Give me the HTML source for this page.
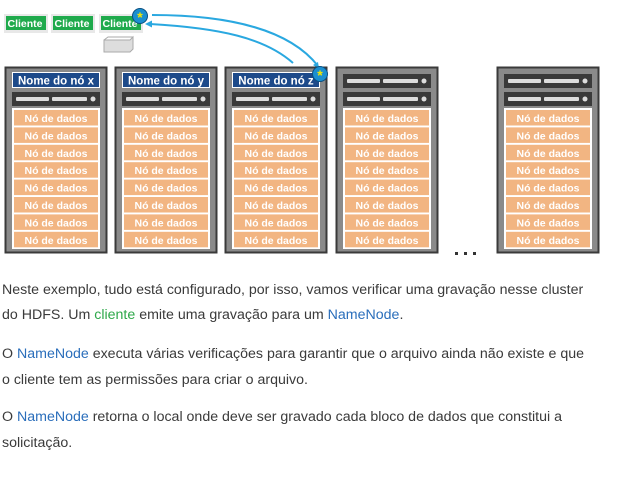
<!DOCTYPE html>
<html><head><meta charset="utf-8"><style>
body{margin:0;width:617px;height:480px;background:#fff;position:relative;overflow:hidden;font-family:"Liberation Sans",sans-serif}
.t{position:absolute;left:2px;font-size:14.2px;color:#3a3a3a;white-space:nowrap}
.b{color:#2a6ebb}.g{color:#2ea84a}
</style></head><body>
<svg width="617" height="265" style="position:absolute;left:0;top:0" font-family="Liberation Sans, sans-serif" font-weight="bold">
<defs>
<g id="bar"><rect x="0" y="0" width="88" height="14" fill="#3a3a3a"/><rect x="4" y="5" width="33" height="4" fill="#ddd" rx="1"/><rect x="40" y="5" width="35" height="4" fill="#ddd" rx="1"/><circle cx="81" cy="7" r="2.5" fill="#ddd"/></g>
<g id="rows">
<rect x="0" y="0" width="88" height="141" fill="#fff"/>
<g fill="#f2b582">
<rect x="2" y="2" width="84" height="15.5"/><rect x="2" y="19.4" width="84" height="15.5"/><rect x="2" y="36.8" width="84" height="15.5"/><rect x="2" y="54.2" width="84" height="15.5"/><rect x="2" y="71.6" width="84" height="15.5"/><rect x="2" y="89" width="84" height="15.5"/><rect x="2" y="106.4" width="84" height="15.5"/><rect x="2" y="123.8" width="84" height="15.5"/></g>
<g fill="#fff" font-size="10.5" text-anchor="middle"><text x="44" y="14">Nó de dados</text><text x="44" y="31.4">Nó de dados</text><text x="44" y="48.8">Nó de dados</text><text x="44" y="66.2">Nó de dados</text><text x="44" y="83.6">Nó de dados</text><text x="44" y="101">Nó de dados</text><text x="44" y="118.4">Nó de dados</text><text x="44" y="135.8">Nó de dados</text></g>
</g>
<g id="rack"><rect x="0.5" y="0.5" width="101" height="185" fill="#8a8a8a" stroke="#3a3a3a" stroke-width="2"/><use href="#bar" x="7" y="25"/><use href="#rows" x="7" y="41"/></g>
</defs>
<g font-size="10.5" fill="#fff">
<rect x="4" y="14" width="44" height="19" fill="#e8e8e8"/><rect x="6" y="16" width="40" height="14" fill="#1faa4c"/><text x="7.5" y="27">Cliente</text>
<rect x="51" y="14" width="44" height="19" fill="#e8e8e8"/><rect x="53" y="16" width="40" height="14" fill="#1faa4c"/><text x="54.5" y="27">Cliente</text>
<rect x="99" y="14" width="44" height="19" fill="#e8e8e8"/><rect x="101" y="16" width="40" height="14" fill="#1faa4c"/><text x="102.5" y="27">Cliente</text>
</g>
<path d="M104 40 L130 40 L133 37 L133 49 L130 52 L104 52 Z" fill="#ddd" stroke="#aaa"/><path d="M104 40 L108 37 L133 37" fill="none" stroke="#aaa"/>
<path d="M152 15 C230 15 290 30 318 66" fill="none" stroke="#2aa8e0" stroke-width="2"/>
<path d="M150 24 C220 28 265 38 293 63" fill="none" stroke="#2aa8e0" stroke-width="2"/>
<path d="M145 24 l7 -3.5 l0 7z" fill="#2aa8e0"/>
<path d="M319 69 l-6 -4 l5 -3z" fill="#2aa8e0"/>
<g transform="translate(5,67)"><use href="#rack"/><rect x="7" y="5" width="88" height="16" fill="#fff"/><rect x="8" y="6" width="86" height="14" fill="#1d4a8a"/><text x="51" y="17.5" fill="#fff" font-size="11.5" text-anchor="middle">Nome do nó x</text></g>
<g transform="translate(115,67)"><use href="#rack"/><rect x="7" y="5" width="88" height="16" fill="#fff"/><rect x="8" y="6" width="86" height="14" fill="#1d4a8a"/><text x="51" y="17.5" fill="#fff" font-size="11.5" text-anchor="middle">Nome do nó y</text></g>
<g transform="translate(225,67)"><use href="#rack"/><rect x="7" y="5" width="88" height="16" fill="#fff"/><rect x="8" y="6" width="86" height="14" fill="#1d4a8a"/><text x="51" y="17.5" fill="#fff" font-size="11.5" text-anchor="middle">Nome do nó z</text></g>
<g transform="translate(336,67)"><use href="#rack"/><use href="#bar" x="7" y="7"/></g>
<g transform="translate(497,67)"><use href="#rack"/><use href="#bar" x="7" y="7"/></g>
<g fill="#333"><rect x="455" y="252" width="3" height="3"/><rect x="464" y="252" width="3" height="3"/><rect x="473" y="252" width="3" height="3"/></g>
<circle cx="140" cy="16" r="7.5" fill="#1b8fd0" stroke="#0b4f80"/><text x="140" y="22" fill="#f5e600" font-size="14" text-anchor="middle">*</text>
<circle cx="320" cy="74" r="7.5" fill="#1b8fd0" stroke="#0b4f80"/><text x="320" y="80" fill="#f5e600" font-size="14" text-anchor="middle">*</text>
</svg>
<div class="t" style="top:282px">Neste exemplo, tudo está configurado, por isso, vamos verificar uma gravação nesse cluster</div>
<div class="t" style="top:307px">do HDFS. Um <span class="g">cliente</span> emite uma gravação para um <span class="b">NameNode</span>.</div>
<div class="t" style="top:346px">O <span class="b">NameNode</span> executa várias verificações para garantir que o arquivo ainda não existe e que</div>
<div class="t" style="top:372px">o cliente tem as permissões para criar o arquivo.</div>
<div class="t" style="top:409px">O <span class="b">NameNode</span> retorna o local onde deve ser gravado cada bloco de dados que constitui a</div>
<div class="t" style="top:435px">solicitação.</div>
</body></html>
